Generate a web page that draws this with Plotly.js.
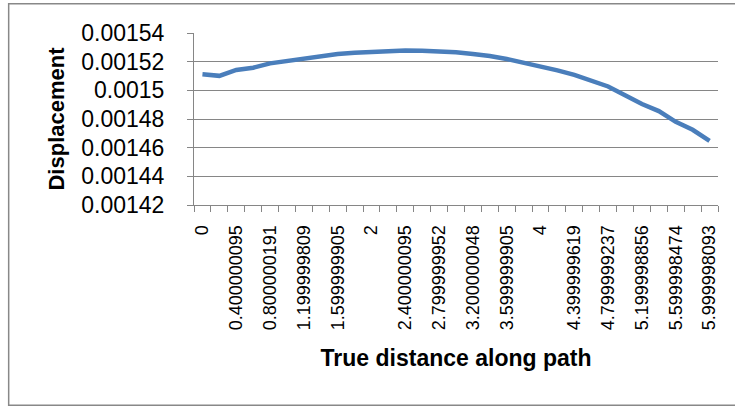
<!DOCTYPE html>
<html>
<head>
<meta charset="utf-8">
<script src="https://cdn.plot.ly/plotly-3.0.1.min.js"></script>
<style>
  html, body { margin: 0; padding: 0; background: #ffffff; }
  #chart { width: 735px; height: 406px; }
</style>
</head>
<body>
<div id="chart"></div>
<script>
// Category index (31 sample points along the path)
const categoryIndex = [0,1,2,3,4,5,6,7,8,9,10,11,12,13,14,15,16,17,18,19,20,21,22,23,24,25,26,27,28,29,30];

// Displacement values
const displacement = [
  0.0015112, 0.0015101, 0.0015142, 0.0015158, 0.0015188, 0.0015205, 0.0015226,
  0.0015242, 0.0015253, 0.0015263, 0.0015270, 0.0015275, 0.0015278, 0.0015277,
  0.0015273, 0.0015265, 0.0015253, 0.0015240, 0.0015219, 0.0015194, 0.0015168,
  0.0015139, 0.0015108, 0.0015071, 0.0015027, 0.0014966, 0.0014905, 0.0014855,
  0.0014780, 0.0014725, 0.0014648
];

// Shown category labels (every other category)
const xTickVals = [0,2,4,6,8,10,12,14,16,18,20,22,24,26,28,30];
const xTickText = ["0","0.400000095","0.800000191","1.199999809","1.599999905","2",
  "2.400000095","2.799999952","3.200000048","3.599999905","4","4.399999619",
  "4.799999237","5.199998856","5.599998474","5.999998093"];

const yTickVals = [0.00142,0.00144,0.00146,0.00148,0.0015,0.00152,0.00154];
const yTickText = ["0.00142","0.00144","0.00146","0.00148","0.0015","0.00152","0.00154"];

// Layout geometry (pixels)
const W = 735, H = 406;
const plotL = 193.5, plotR = 718, plotT = 33.3, plotB = 205;
const pw = plotR - plotL, ph = plotB - plotT;
const px2x = p => (p - plotL) / pw;
const px2y = p => (plotB - p) / ph;

const gridCol = '#868686';
const fontFam = '"Liberation Sans", Arial, sans-serif';

const trace = {
  x: categoryIndex,
  y: displacement,
  type: 'scatter',
  mode: 'lines',
  line: { color: '#4a7ebb', width: 4.5 },
  hoverinfo: 'skip'
};

const layout = {
  width: W, height: H,
  margin: { l: plotL, r: W - plotR, t: plotT, b: H - plotB, pad: 0 },
  paper_bgcolor: '#ffffff',
  plot_bgcolor: '#ffffff',
  showlegend: false,
  xaxis: {
    range: [-0.5, 30.5],
    tickmode: 'array',
    tickvals: xTickVals,
    ticktext: xTickText,
    tickangle: -90,
    ticks: '',
    ticklabelstandoff: 12,
    tickfont: { family: fontFam, size: 18, color: '#000000' },
    showgrid: false,
    zeroline: false,
    showline: true,
    linecolor: gridCol,
    linewidth: 1,
    minor: { tickmode: 'linear', tick0: -0.5, dtick: 1, ticks: 'outside', ticklen: 6, tickcolor: gridCol, tickwidth: 1, showgrid: false },
    title: { text: 'True distance along path', font: { family: fontFam, size: 23, color: '#000000', weight: 'bold' }, standoff: 20 },
    automargin: false,
    fixedrange: true
  },
  yaxis: {
    range: [0.00142, 0.00154],
    tickmode: 'array',
    tickvals: yTickVals,
    ticktext: yTickText,
    ticks: 'outside',
    ticklen: 6,
    tickcolor: gridCol,
    tickwidth: 1,
    ticklabelstandoff: 18,
    tickfont: { family: fontFam, size: 23, color: '#000000' },
    showgrid: true,
    gridcolor: gridCol,
    gridwidth: 1,
    zeroline: false,
    showline: true,
    linecolor: gridCol,
    linewidth: 1,
    title: { text: 'Displacement', font: { family: fontFam, size: 22, color: '#000000', weight: 'bold' }, standoff: 10 },
    automargin: false,
    fixedrange: true
  },
  shapes: [{
    type: 'rect', xref: 'paper', yref: 'paper', layer: 'below',
    x0: px2x(8), x1: px2x(745), y0: px2y(405), y1: px2y(4),
    line: { color: '#888888', width: 1.5 }, fillcolor: 'rgba(0,0,0,0)'
  }]
};

Plotly.newPlot('chart', [trace], layout, { staticPlot: true, displayModeBar: false });
</script>
</body>
</html>
